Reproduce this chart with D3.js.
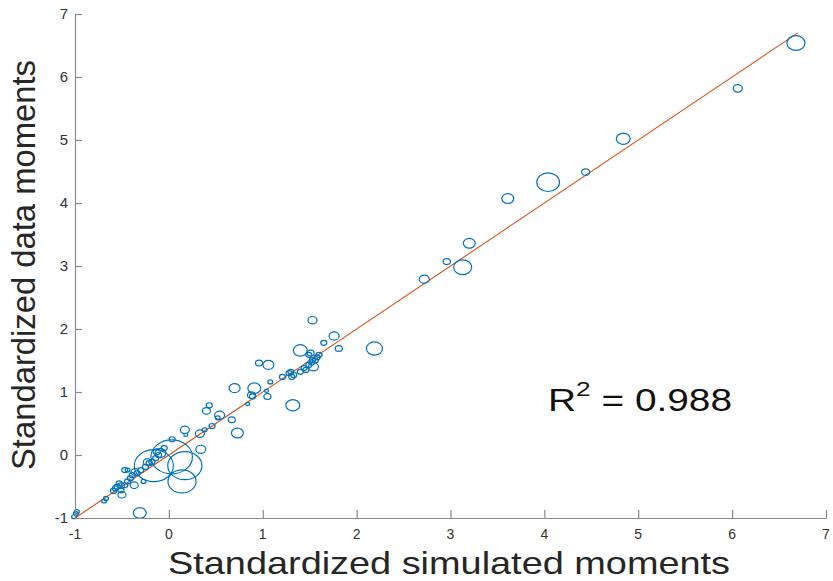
<!DOCTYPE html>
<html>
<head>
<meta charset="utf-8">
<script src="https://cdn.jsdelivr.net/npm/d3@7"></script>
<style>
  body { margin: 0; background: #fff; }
  svg { display: block; font-family: "Liberation Sans", Arial, sans-serif; }
</style>
</head>
<body>
<svg width="833" height="581"></svg>
<script>
// simulated vs data moments, bubble = weight
let simX = [6.68, 6.06, 4.84, 4.44, 4.04, 3.61, 3.20, 2.96, 3.13, 2.72,
  2.19, 1.81, 1.76, 1.65, 1.53, 1.40, 1.51, 1.06, 0.96, 1.08,
  1.32, 0.91, 0.70, 0.88, 0.89, 1.05, 1.04, 0.84, 0.40, 0.43,
  0.54, 0.52, 0.67, 0.46, 0.38, 0.73, 0.17, 0.33, 0.18, 0.035,
  0.34, -0.09, -0.16, 0.03, 0.17, 0.14, -0.31, -0.47, -0.27, -0.37,
  -0.50, -0.67, -0.69, -0.99, -0.98, -1.01,
  -0.57, -0.53, -0.51, -0.59, -0.55, -0.47, -0.44, -0.41, -0.39, -0.34,
  -0.30, -0.25, -0.21, -0.18, -0.14, -0.11, -0.44, -0.51, -0.36, -0.23,
  -0.13, -0.05,
  1.21, 1.28, 1.31, 1.30, 1.33, 1.40, 1.44, 1.46, 1.49, 1.52,
  1.54, 1.53, 1.56, 1.58, 1.60, 1.49]
let dataY = [6.54, 5.82, 5.02, 4.49, 4.33, 4.07, 3.36, 3.07, 2.98, 2.79,
  1.69, 1.69, 1.89, 1.78, 2.14, 1.66, 1.62, 1.43, 1.46, 1.16,
  0.79, 1.06, 1.06, 0.95, 0.93, 0.93, 1.02, 0.81, 0.70, 0.79,
  0.63, 0.59, 0.56, 0.46, 0.40, 0.35, 0.40, 0.34, 0.32, 0.25,
  0.09, 0.03, -0.17, -0.03, -0.17, -0.42, -0.92, -0.24, -0.42, -0.48,
  -0.63, -0.69, -0.73, -0.93, -0.90, -0.98,
  -0.53, -0.45, -0.56, -0.57, -0.50, -0.48, -0.42, -0.37, -0.32, -0.29,
  -0.24, -0.19, -0.13, -0.11, -0.05, 0.00, -0.24, -0.49, -0.27, -0.11,
  0.05, 0.11,
  1.24, 1.30, 1.24, 1.32, 1.27, 1.32, 1.38, 1.35, 1.43, 1.47,
  1.40, 1.51, 1.50, 1.55, 1.59, 1.59]
let weights = [7.4, 3.7, 5.7, 3.3, 9.3, 4.9, 4.9, 3.0, 7.4, 4.1,
  6.6, 2.9, 4.1, 2.5, 3.7, 5.7, 2.9, 4.5, 2.9, 2.0,
  5.7, 5.3, 4.5, 3.3, 2.5, 2.9, 1.6, 1.6, 3.3, 2.5,
  4.1, 2.0, 2.9, 2.5, 2.0, 4.9, 3.7, 3.7, 1.6, 2.5,
  4.1, 4.5, 16, 17, 14, 11.5, 5.3, 2.5, 2.0, 3.3,
  3.3, 2.0, 2.0, 2.0, 2.0, 2.0,
  2.5, 2.5, 2.5, 2.5, 2.5, 2.5, 2.5, 2.5, 2.5, 2.5,
  2.5, 2.5, 2.5, 2.5, 2.5, 2.5, 2.0, 2.9, 3.3, 3.3,
  2.9, 2.5,
  2.5, 2.5, 2.5, 2.5, 2.5, 2.5, 2.5, 2.5, 2.5, 2.5,
  4.1, 2.5, 2.5, 2.5, 2.5, 2.5]
let ticks = [-1, 0, 1, 2, 3, 4, 5, 6, 7]
let fitLine = [-1, 6.7]
let rSquared = '0.988'

let svg = d3.select('svg')
let plotLeft = 75, plotRight = 826, plotTop = 14, plotBottom = 518

let x = d3.scaleLinear().domain([-1, 7]).range([plotLeft, plotRight])
let y = d3.scaleLinear().domain([-1, 7]).range([plotBottom, plotTop])
let r = d3.scaleLinear().domain([0, 1]).range([0, 1])
let stretch = 1.22  // markers look wider than tall

let points = simX.map((d, i) => ({ x: d, y: dataY[i], w: weights[i] }))

// fit line
svg.append('line')
  .attr('x1', x(fitLine[0])).attr('y1', y(fitLine[0]))
  .attr('x2', x(fitLine[1])).attr('y2', y(fitLine[1]))
  .attr('stroke', '#D95319')
  .attr('stroke-width', 1.1)

svg.selectAll('ellipse')
  .data(points)
  .enter()
  .append('ellipse')
  .attr('cx', d => x(d.x))
  .attr('cy', d => y(d.y))
  .attr('rx', d => r(d.w) * stretch)
  .attr('ry', d => r(d.w))
  .attr('fill', 'none')
  .attr('stroke', '#0072BD')
  .attr('stroke-width', 1.2)

// axes (ticks point inward)
let xAxis = d3.axisTop(x).tickValues(ticks).tickSize(8).tickSizeOuter(0).tickFormat('')
svg.append('g').attr('transform', `translate(0,${plotBottom})`).call(xAxis)
let yAxis = d3.axisRight(y).tickValues(ticks).tickSize(7).tickSizeOuter(0).tickFormat('')
svg.append('g').attr('transform', `translate(${plotLeft},0)`).call(yAxis)
svg.selectAll('.domain, .tick line').attr('stroke', '#8a8a8a').attr('stroke-width', 1.2)

svg.selectAll('.xlab')
  .data(ticks)
  .enter()
  .append('text')
  .attr('x', d => x(d))
  .attr('y', 539)
  .attr('text-anchor', 'middle')
  .attr('font-size', 14)
  .attr('fill', '#333')
  .text(d => d)

svg.selectAll('.ylab')
  .data(ticks)
  .enter()
  .append('text')
  .attr('x', 68)
  .attr('y', d => y(d) + 5)
  .attr('text-anchor', 'end')
  .attr('font-size', 15)
  .attr('fill', '#333')
  .text(d => d)

svg.append('text')
  .attr('x', 449)
  .attr('y', 574)
  .attr('text-anchor', 'middle')
  .attr('font-size', 32)
  .attr('fill', '#262626')
  .attr('textLength', 562)
  .attr('lengthAdjust', 'spacingAndGlyphs')
  .text('Standardized simulated moments')

svg.append('text')
  .attr('transform', 'translate(35,265) rotate(-90)')
  .attr('text-anchor', 'middle')
  .attr('font-size', 34)
  .attr('fill', '#262626')
  .attr('textLength', 410)
  .attr('lengthAdjust', 'spacingAndGlyphs')
  .text('Standardized data moments')

let r2 = svg.append('text')
  .attr('x', 548)
  .attr('y', 411)
  .attr('font-size', 31)
  .attr('fill', '#111')
  .attr('textLength', 184)
  .attr('lengthAdjust', 'spacingAndGlyphs')
r2.append('tspan').text('R')
r2.append('tspan').attr('font-size', 21).attr('dy', -15).text('2')
r2.append('tspan').attr('dy', 15).text(' = ' + rSquared)
</script>
</body>
</html>
